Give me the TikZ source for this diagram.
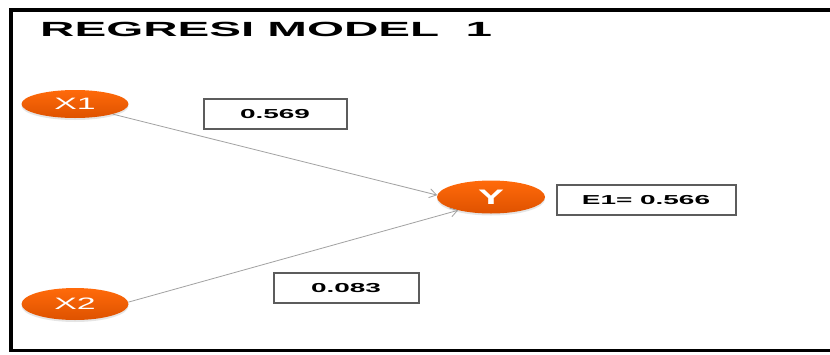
\documentclass[tikz,border=0pt]{standalone}
\usepackage{fontspec}
\setmainfont{Liberation Sans}
\newfontfamily\titlefont[FakeStretch=2.32]{Liberation Sans}
\newfontfamily\labelfont[FakeStretch=2.15]{Liberation Sans}
\newfontfamily\varfont[FakeStretch=2.05]{Liberation Sans}
\newfontfamily\yfont[FakeStretch=1.85]{Liberation Sans}
\usetikzlibrary{arrows.meta,shadows,shapes.geometric}
\definecolor{orangetop}{HTML}{FF6A0A}
\definecolor{orangebot}{HTML}{DE5200}
\definecolor{boxgray}{HTML}{5C5C5C}
\definecolor{linkgray}{HTML}{A2A2A2}
\tikzset{
  var/.style={ellipse, inner sep=0pt, top color=orangetop, bottom color=orangebot,
    draw=none, text=white, minimum width=107pt, minimum height=31pt,
    drop shadow={shadow xshift=0pt, shadow yshift=-2pt, opacity=.2}},
  coef/.style={rectangle, draw=boxgray, line width=2pt, fill=white,
    inner sep=0pt, minimum width=143pt, minimum height=30pt,
    font=\labelfont\bfseries\fontsize{13}{15}\selectfont},
  link/.style={draw=linkgray, line width=0.8pt,
    -{Straight Barb[length=7pt,width=9pt,line width=0.8pt]}}
}
\begin{document}
\begin{tikzpicture}[x=1pt,y=-1pt]
\useasboundingbox (0,0) rectangle (830,354);
\fill[white] (0,0) rectangle (830,354);
% frame
\draw[line width=4pt] (835,10) -- (11,10) -- (11,349);
\draw[line width=2.5pt] (9,350.5) -- (835,350.5);
% title
\node[anchor=base west, inner sep=0pt] (title) at (40,36.5)
  {\titlefont\bfseries\fontsize{20.5}{24}\selectfont REGRESI MODEL\ \ 1};
% variables
\node[var, minimum height=28pt] (x1) at (75,104) {\varfont\fontsize{16.5}{18}\selectfont X1};
\node[var, minimum height=32pt] (x2) at (75,304) {\varfont\fontsize{16.5}{18}\selectfont X2};
\node[var, minimum width=108pt, minimum height=33pt] (y) at (491,197)
  {\yfont\bfseries\fontsize{21}{24}\selectfont Y};
% coefficients
\node[coef] (b1) at (275,114) {0.569};
\node[coef, minimum width=145pt] (b2) at (346,288) {0.083};
\node[coef, minimum width=179pt] (e1) at (646,200) {E1= 0.566};
% paths
\draw[link] (x1.345) -- (y.178);
\draw[link] (x2.2) -- (y.202);
\end{tikzpicture}
\end{document}
